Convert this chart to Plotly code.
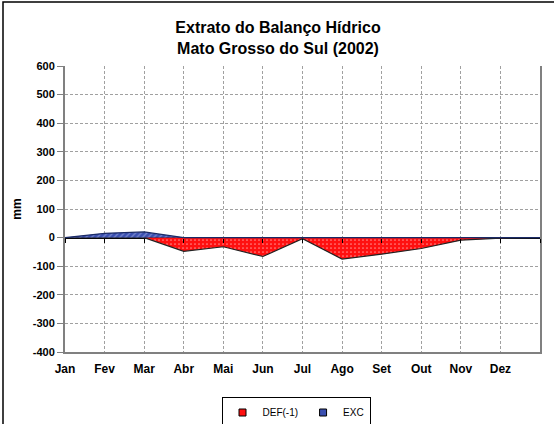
import plotly.graph_objects as go

months = ["Jan", "Fev", "Mar", "Abr", "Mai", "Jun", "Jul", "Ago", "Set", "Out", "Nov", "Dez"]
# 13 points: the last closes the year at the right edge
def_vals = [0, 0, 0, -48, -32, -66, -4, -75, -58, -38, -9, -2, 0]
exc_vals = [0, 15, 20, 0, 0, 0, 0, 0, 0, 0, 0, 0, 0]
y_ticks = list(range(-400, 601, 100))

W, H = 554, 424
ML, MR, MT, MB = 65, 14, 66, 72
PW, PH = W - ML - MR, H - MT - MB

xpos = list(range(len(def_vals)))
font = "Liberation Sans, Arial, sans-serif"
RED = "#FF1010"
BLUE = "#3a4fb0"

fig = go.Figure()
fig.add_trace(go.Scatter(
    x=xpos, y=def_vals, name="DEF(-1)", mode="lines", fill="tozeroy",
    line=dict(color="#222222", width=1.2),
    fillcolor=RED, showlegend=False, hoverinfo="skip",
    fillpattern=dict(shape=".", bgcolor=RED, fgcolor="white", size=4, solidity=0.15),
))
fig.add_trace(go.Scatter(
    x=xpos, y=exc_vals, name="EXC", mode="lines", fill="tozeroy",
    line=dict(color="#1a2a66", width=1.2),
    fillcolor=BLUE, showlegend=False, hoverinfo="skip",
    fillpattern=dict(shape="/", bgcolor=BLUE, fgcolor="#b8c4ee", size=4, solidity=0.3),
))
# legend entries (square swatches as in the original)
fig.add_trace(go.Scatter(x=[None], y=[None], mode="markers", name="DEF(-1)",
                         marker=dict(symbol="square", size=7, color=RED,
                                     line=dict(color="black", width=1))))
fig.add_trace(go.Scatter(x=[None], y=[None], mode="markers", name="EXC",
                         marker=dict(symbol="square", size=7, color=BLUE,
                                     line=dict(color="black", width=1))))

fig.update_layout(
    width=W, height=H,
    margin=dict(l=ML, r=MR, t=MT, b=MB, autoexpand=False),
    paper_bgcolor="white", plot_bgcolor="white",
    font=dict(family=font, color="black"),
    title=dict(text="<b>Extrato do Balanço Hídrico<br>Mato Grosso do Sul (2002)</b>",
               x=278 / W, xanchor="center", y=1 - 33 / H, yanchor="top",
               font=dict(size=16, family=font, color="black"), automargin=False),
    showlegend=True,
    legend=dict(orientation="h", x=(296 - ML) / PW, xanchor="center",
                y=(PH - (397 - MT)) / PH, yanchor="top",
                bordercolor="black", borderwidth=1, bgcolor="white",
                font=dict(size=10, family=font), itemwidth=30,
                traceorder="normal", tracegroupgap=0),
    xaxis=dict(range=[0, 12], tickmode="array", tickvals=list(range(12)),
               ticktext=[f"<b>{m}</b>" for m in months],
               tickfont=dict(size=12, family=font, color="black"),
               showgrid=True, gridcolor="#a0a0a0", griddash="3px,2px", gridwidth=1,
               showline=True, linecolor="#808080", linewidth=2, mirror=False,
               ticks="outside", ticklen=5, tickcolor="rgba(0,0,0,0)",
               zeroline=False, fixedrange=True, automargin=False),
    yaxis=dict(range=[-400, 600], tickmode="array", tickvals=y_ticks,
               ticktext=[f"<b>{v}</b>" for v in y_ticks],
               tickfont=dict(size=11, family=font, color="black"),
               title=dict(text="<b>mm</b>", font=dict(size=12, family=font), standoff=9),
               showgrid=True, gridcolor="#a0a0a0", griddash="3px,2px", gridwidth=1,
               showline=True, linecolor="#808080", linewidth=2, mirror=True,
               ticks="outside", ticklen=6, tickcolor="#808080",
               zeroline=True, zerolinecolor="black", zerolinewidth=1.5,
               fixedrange=True, automargin=False),
    xaxis2=dict(range=[0, 12], overlaying="x", anchor="free", position=0.4,
                side="bottom", tickmode="array", tickvals=list(range(13)),
                showticklabels=False, ticks="outside", ticklen=4, tickcolor="black",
                showgrid=False, showline=False, zeroline=False, fixedrange=True,
                automargin=False),
)
# invisible trace to activate xaxis2
fig.add_trace(go.Scatter(x=[0], y=[0], xaxis="x2", mode="markers",
                         marker=dict(opacity=0), showlegend=False, hoverinfo="skip"))

# outer frame (extends past right and bottom edges as in the original)
fig.add_shape(type="rect", xref="paper", yref="paper",
              x0=-(ML - 3) / PW, x1=1 + (MR + 10) / PW,
              y0=-(MB + 10) / PH, y1=1 + (MT - 2) / PH,
              line=dict(color="black", width=1.5), fillcolor="rgba(0,0,0,0)", layer="below")

fig.write_html("out.html",
               config={"displayModeBar": False},
               post_script="document.body.style.margin='0';document.body.style.overflow='hidden';")
